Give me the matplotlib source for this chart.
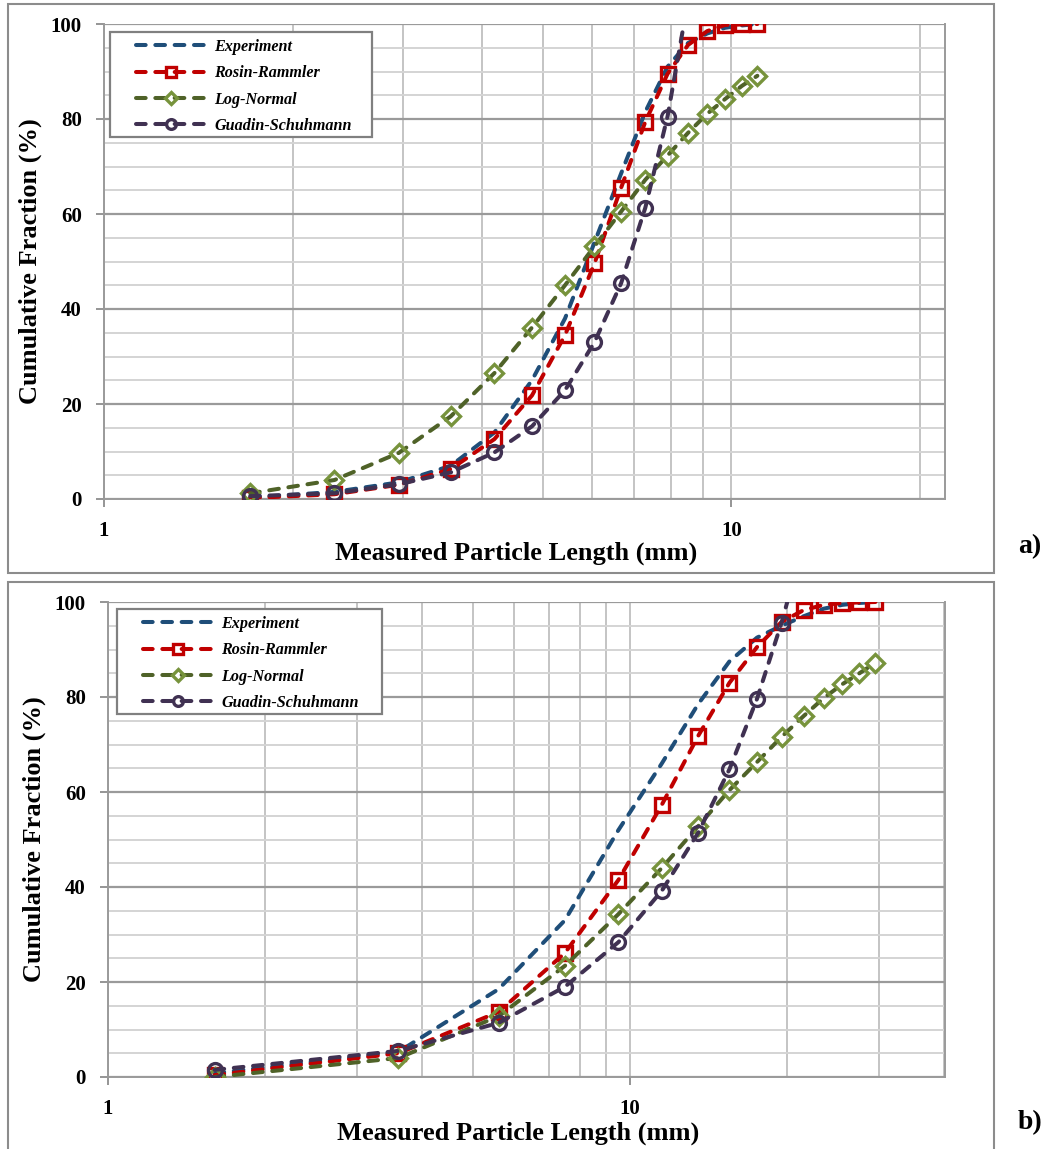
import numpy as np
import matplotlib.pyplot as plt
from matplotlib.patches import Rectangle
from matplotlib.ticker import FixedLocator, NullFormatter

plt.rcParams['font.family'] = ['Liberation Serif', 'DejaVu Serif']

# ---- panel a data ----
size_a = [1.71, 2.33, 2.95, 3.57, 4.19, 4.81, 5.43, 6.05, 6.67, 7.29, 7.91, 8.53, 9.15, 9.77, 10.4, 11.0]
exp_a = [0.3, 1.5, 3.5, 7.0, 14.0, 25.0, 38.0, 54.0, 68.5, 81.5, 91.0, 96.0, 98.0, 99.2, 99.7, 100.0]
rr_a = [0.2, 1.0, 3.0, 6.3, 12.6, 21.8, 34.5, 49.6, 65.5, 79.4, 89.5, 95.6, 98.5, 99.8, 99.9, 100.0]
ln_a = [1.2, 4.0, 9.7, 17.4, 26.5, 36.1, 45.0, 53.2, 60.5, 67.2, 72.3, 77.1, 81.1, 84.2, 87.0, 89.1]
gs_size_a = [1.71, 2.33, 2.95, 3.57, 4.19, 4.81, 5.43, 6.05, 6.67, 7.29, 7.91, 8.4]
gs_a = [0.6, 1.2, 3.1, 5.6, 9.8, 15.3, 22.9, 33.0, 45.4, 61.3, 80.5, 100.0]

# ---- panel b data ----
size_b = [1.6, 3.6, 5.6, 7.5, 9.5, 11.5, 13.5, 15.5, 17.5, 19.5, 21.5, 23.5, 25.5, 27.5, 29.5]
exp_b = [0.8, 5.3, 18.5, 33.0, 52.0, 66.0, 78.5, 87.5, 92.5, 95.0, 97.0, 98.6, 99.4, 99.8, 100.0]
rr_b = [0.4, 5.0, 13.7, 26.1, 41.5, 57.3, 71.8, 83.0, 90.5, 95.8, 98.3, 99.4, 99.8, 99.9, 100.0]
ln_b = [0.0, 4.0, 12.8, 23.4, 34.3, 44.0, 52.8, 60.4, 66.3, 71.6, 76.0, 79.8, 82.7, 85.0, 87.2]
gs_size_b = [1.6, 3.6, 5.6, 7.5, 9.5, 11.5, 13.5, 15.5, 17.5, 19.5, 20.0]
gs_b = [1.5, 5.5, 11.4, 19.0, 28.4, 39.2, 51.4, 64.8, 79.6, 95.6, 100.0]

labels = ['Experiment', 'Rosin-Rammler', 'Log-Normal', 'Guadin-Schuhmann']
line_cols = ['#1F4E79', '#C00000', '#4F6228', '#403152']
mark_cols = [None, '#C00000', '#77933C', '#403152']
markers = [None, 's', 'D', 'o']

W, H = 1048, 1149
fig = plt.figure(figsize=(W / 100, H / 100), dpi=100)

# panel frames
for (x0, y0, x1, y1) in [(8, 4, 994, 573), (8, 582, 994, 1160)]:
    fig.patches.append(Rectangle((x0 / W, 1 - y1 / H), (x1 - x0) / W, (y1 - y0) / H,
                                 transform=fig.transFigure, fill=False,
                                 edgecolor='#8c8c8c', lw=1.5))


def draw_panel(px_box, xmax, xs, gs_x, series, leg_frame, leg_anchor, lbl, lbl_y):
    l, t, r, b = px_box
    ax = fig.add_axes([l / W, 1 - b / H, (r - l) / W, (b - t) / H])
    ax.set_xscale('log')
    ax.set_xlim(1, xmax)
    ax.set_ylim(0, 100)
    # grid
    ax.set_yticks([0, 20, 40, 60, 80, 100])
    ax.yaxis.set_minor_locator(FixedLocator(np.arange(0, 101, 5)))
    ax.grid(True, which='major', axis='y', color='#9a9a9a', lw=1.6)
    ax.grid(True, which='minor', axis='y', color='#d4d4d4', lw=1.4)
    ax.grid(True, which='both', axis='x', color='#c4c4c4', lw=1.4)
    ax.set_axisbelow(True)
    ax.xaxis.set_major_locator(FixedLocator([1, 10]))
    ax.xaxis.set_minor_locator(FixedLocator([2, 3, 4, 5, 6, 7, 8, 9, 20, 30, 40]))
    ax.xaxis.set_minor_formatter(NullFormatter())
    ax.set_xticklabels(['1', '10'])
    ax.tick_params(axis='x', which='minor', length=0)
    ax.tick_params(axis='y', which='minor', length=0)
    ax.tick_params(which='major', length=6, width=1.3, color='#8c8c8c',
                   labelsize=15, pad=10)
    for tl in ax.get_xticklabels() + ax.get_yticklabels():
        tl.set_fontweight('bold')
    for s in ax.spines.values():
        s.set_color('#9a9a9a')
        s.set_linewidth(1.4)
    ax.spines['top'].set_visible(False)

    for i, (lab, ys) in enumerate(zip(labels, series)):
        x = gs_x if i == 3 else xs
        kw = dict(color=line_cols[i], lw=2.9, dashes=(2.4, 2.4),
                  dash_capstyle='round', label=lab, zorder=3 + i)
        if markers[i]:
            kw.update(marker=markers[i], markersize=10 if markers[i] != 'D' else 9,
                      markerfacecolor='none', markeredgecolor=mark_cols[i],
                      markeredgewidth=2.4)
            if i == 3:
                kw['markevery'] = list(range(len(x) - 1))
        ax.plot(x, ys, **kw)

    # legend frame drawn by hand (Excel-like wide padding)
    fx0, fy0, fx1, fy1 = leg_frame
    ax.add_patch(Rectangle(((fx0 - l) / (r - l), (b - fy1) / (b - t)),
                           (fx1 - fx0) / (r - l), (fy1 - fy0) / (b - t),
                           transform=ax.transAxes, facecolor='white',
                           edgecolor='#808080', lw=1.6, zorder=10))
    ax_, ay_ = leg_anchor
    leg = ax.legend(loc='upper left',
                    bbox_to_anchor=((ax_ - l) / (r - l), (b - ay_) / (b - t)),
                    frameon=False, borderpad=0, borderaxespad=0,
                    prop=dict(family='Liberation Serif', weight='bold',
                              style='italic', size=11.6),
                    handlelength=4.35, labelspacing=0.64, markerscale=0.7,
                    handletextpad=0.5)
    leg.set_zorder(11)

    ax.set_ylabel('Cumulative Fraction (%)', fontsize=19, fontweight='bold', labelpad=6)
    ax.set_xlabel('Measured Particle Length (mm)', fontsize=19, fontweight='bold',
                  labelpad=2)
    ax.xaxis.set_label_coords(0.49, -0.09 if lbl == 'a)' else -0.094)
    fig.text(1030 / W, 1 - lbl_y / H, lbl, fontsize=20, fontweight='bold',
             ha='center', va='center')
    return ax


draw_panel((104, 24, 945, 499), 21.9, size_a, gs_size_a, [exp_a, rr_a, ln_a, gs_a],
           (110, 32, 372, 137), (136, 39), 'a)', 547)
draw_panel((108, 602, 945, 1077), 40.1, size_b, gs_size_b, [exp_b, rr_b, ln_b, gs_b],
           (117, 609, 382, 714), (143, 616), 'b)', 1123)

fig.savefig('out.png', dpi=100)
